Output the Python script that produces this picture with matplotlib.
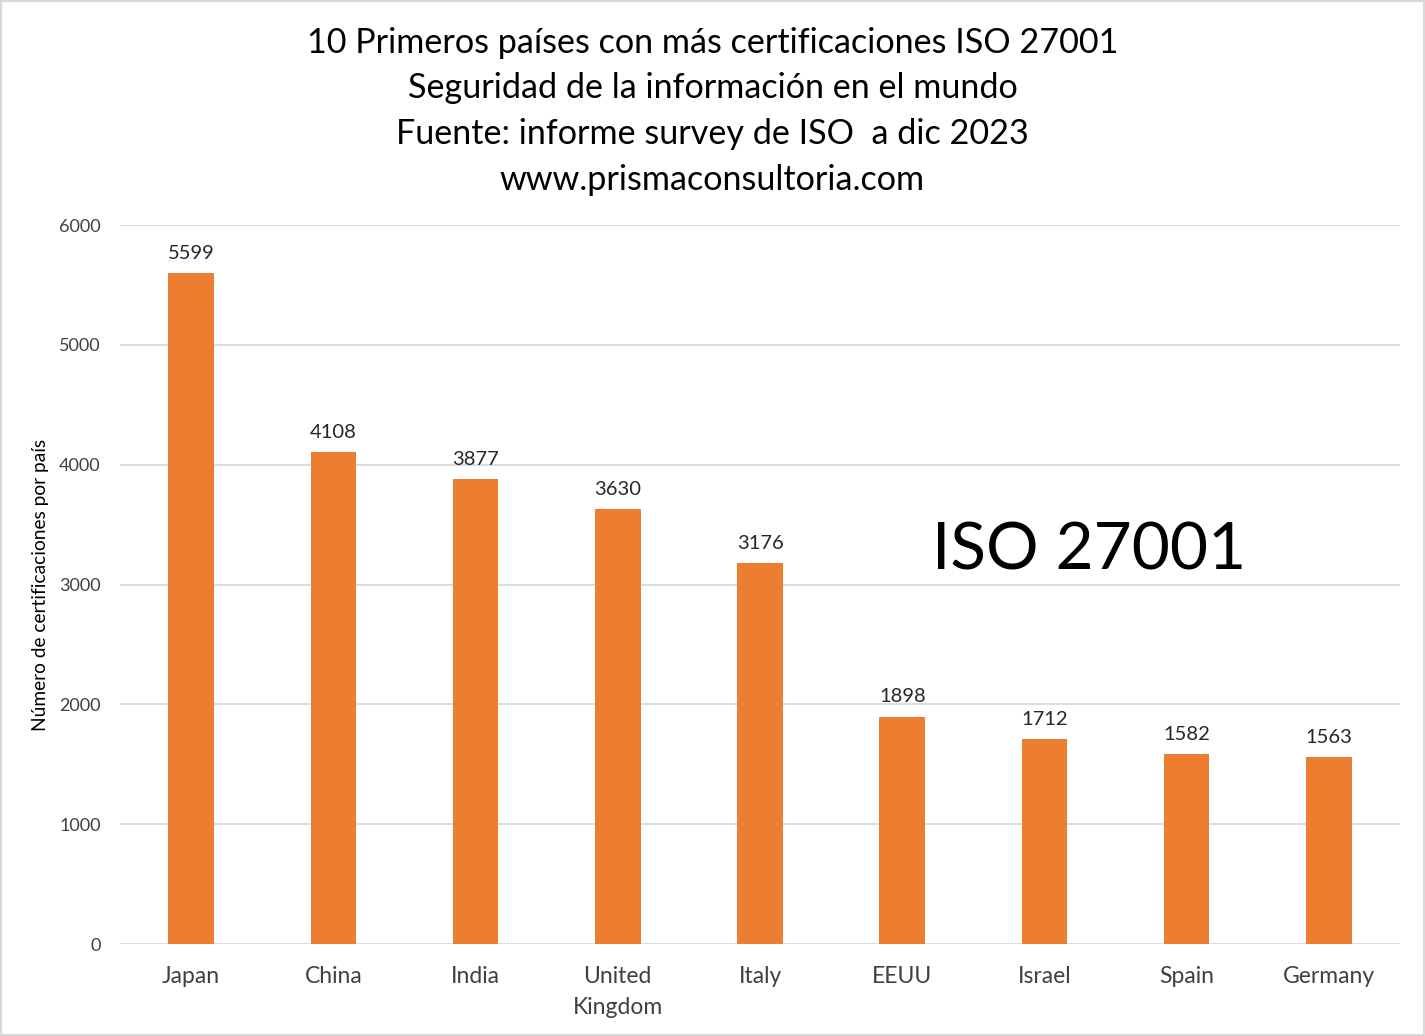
import matplotlib
matplotlib.use("Agg")
import matplotlib.pyplot as plt
import matplotlib.patches as mpatches

plt.rcParams["font.family"] = ["Lato", "DejaVu Sans"]

countries = ["Japan", "China", "India", "United\nKingdom", "Italy",
             "EEUU", "Israel", "Spain", "Germany"]
certs = [5599, 4108, 3877, 3630, 3176, 1898, 1712, 1582, 1563]
yticks = [0, 1000, 2000, 3000, 4000, 5000, 6000]

title_lines = [
    "10 Primeros países con más certificaciones ISO 27001",
    "Seguridad de la información en el mundo",
    "Fuente: informe survey de ISO  a dic 2023",
    "www.prismaconsultoria.com",
]

bar_color = "#ED7D31"
grid_color = "#D9D9D9"
text_color = "#404040"

fig = plt.figure(figsize=(14.25, 10.36), dpi=100)
ax = fig.add_axes([0.0842, 0.0888, 0.8983, 0.694])

x = list(range(len(countries)))
ax.bar(x, certs, width=0.32, color=bar_color, zorder=3)
ax.set_xlim(-0.5, len(countries) - 0.5)
ax.set_ylim(0, 6000)
ax.set_yticks(yticks)
ax.set_yticklabels([str(t) for t in yticks], fontsize=13, color=text_color)
ax.set_xticks(x)
ax.set_xticklabels(countries, fontsize=16.5, color=text_color, linespacing=1.6)
ax.tick_params(axis="both", length=0)
ax.tick_params(axis="y", pad=14)
ax.tick_params(axis="x", pad=16)
ax.grid(axis="y", color=grid_color, linewidth=1.3, zorder=0)
for s in ax.spines.values():
    s.set_visible(False)

for xi, v in zip(x, certs):
    ax.annotate(str(v), (xi, v), xytext=(0, 8), textcoords="offset points",
                ha="center", va="bottom", fontsize=14.5, color="#262626")

ax.set_ylabel("Número de certificaciones por país", fontsize=13.8,
              color="black")
ax.yaxis.set_label_coords(-0.0555, 0.5)

for i, line in enumerate(title_lines):
    fig.text(0.5, 1 - (43 + i * 45.5) / 1036, line, ha="center", va="center",
             fontsize=24.6, color="black")

fig.text(0.7645, 1 - 551 / 1036, "ISO 27001", ha="center", va="center",
         fontsize=47.3, color="black")

fig.patches.append(mpatches.Rectangle((0.001, 0.001), 0.998, 0.998,
                                      transform=fig.transFigure, fill=False,
                                      edgecolor="#D9D9D9", linewidth=1.5))

fig.savefig("out.png", dpi=100, facecolor="white")
